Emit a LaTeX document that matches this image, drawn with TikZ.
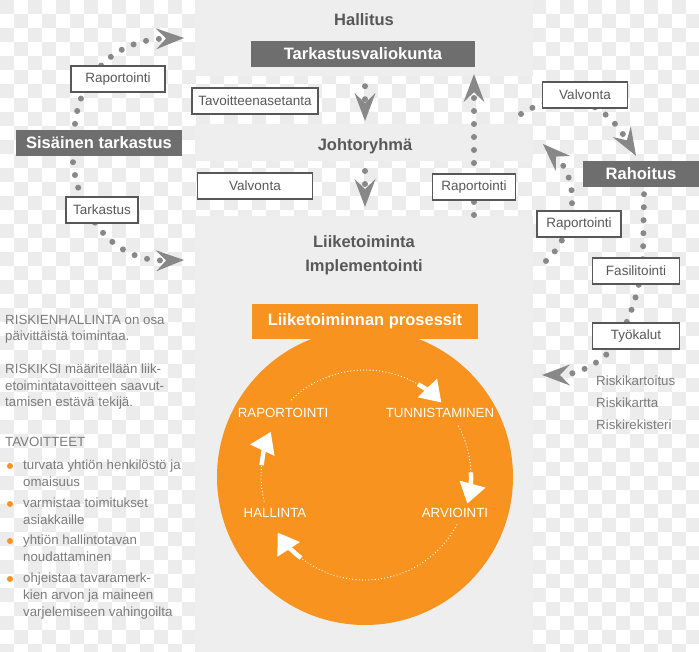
\documentclass[tikz,border=0pt]{standalone}
\usepackage{fontspec}
\setmainfont{Liberation Sans}
\usepackage{xcolor}
\definecolor{panelGray}{HTML}{EEEEEE}
\definecolor{checkGray}{HTML}{ECECEC}
\definecolor{boxGray}{HTML}{6E6E6E}
\definecolor{darkText}{HTML}{585858}
\definecolor{lightText}{HTML}{7C7C7C}
\definecolor{dotGray}{HTML}{888888}
\definecolor{processOrange}{HTML}{F7931E}
\usepackage{tikz}
\usetikzlibrary{
    arrows.meta,
    positioning,
    calc,
    backgrounds
}
\pgfdeclarelayer{connectors}
\pgfsetlayers{background,connectors,main}
\tikzset{
    % Bold grey headings of the middle column
    heading/.style={
        font=\bfseries\fontsize{16.5}{19}\selectfont,
        text=darkText,
        inner sep=0pt,
    },
    % Dark boxes with white bold text
    title box/.style={
        rectangle,
        fill=boxGray,
        text=white,
        font=\bfseries\fontsize{16.5}{19}\selectfont,
        minimum height=26pt,
        inner sep=0pt,
    },
    % White boxes sitting on the dotted lines
    label box/.style={
        rectangle,
        draw=darkText,
        line width=1.4pt,
        fill=white,
        text=darkText,
        font=\fontsize{13.5}{15}\selectfont,
        minimum height=26pt,
        inner sep=0pt,
    },
    % Plain grey text at the sides
    side text/.style={
        font=\fontsize{13.3}{16.5}\selectfont,
        text=lightText,
        align=left,
        inner sep=0pt,
        anchor=north west,
    },
    bullet item/.style={
        side text,
        font=\fontsize{13.3}{17}\selectfont,
    },
    bullet dot/.style={
        circle,
        fill=processOrange,
        inner sep=0pt,
        minimum size=6pt,
    },
    % Grey dotted connectors
    dotted path/.style={
        draw=dotGray,
        line width=6pt,
        line cap=round,
        dash pattern=on 0pt off 13pt,
    },
    dotted arrow/.style={
        dotted path,
        -{Stealth[length=28pt, width=21pt, inset=10pt, line width=0pt]},
    },
    % White cycle inside the orange disc
    cycle label/.style={
        text=white,
        font=\fontsize{13.3}{15}\selectfont,
        inner sep=0pt,
    },
    cycle dots/.style={
        draw=white,
        line width=1.3pt,
        line cap=round,
        dash pattern=on 0pt off 3.2pt,
    },
    cycle head/.style={
        draw=white,
        line width=4.5pt,
        -{Triangle[length=20pt, width=27pt, line width=0pt]},
    },
}

\begin{document}
\begin{tikzpicture}[x=1pt, y=-1pt]
    \useasboundingbox (0,0) rectangle (699,652);

    % background: checker and middle panel
    \begin{scope}[on background layer]
        \clip (0,0) rectangle (699,652);
        \fill[white] (0,0) rectangle (699,652);
        \foreach \i in {0,...,49}
            \foreach \j in {0,...,23}
                \fill[checkGray] ({\i*14},{\j*28+mod(\i,2)*14}) rectangle ++(14,14);
        \fill[panelGray] (195,0) rectangle (533,76);
        \fill[panelGray] (195,124) rectangle (533,161);
        \fill[panelGray] (195,216) rectangle (533,652);
    \end{scope}

    % middle column
    \node (hallitus) [heading] at (364,20) {Hallitus};
    \node (tarkastus_vk) [title box, minimum width=224pt] at (363,54) {Tarkastusvaliokunta};
    \node (johto) [heading] at (365,146) {Johtoryhmä};
    \node (liike) [heading] at (364,242) {Liiketoiminta};
    \node (implement) [heading] at (364,267) {Implementointi};
    \node (tavoite) [label box, minimum width=126pt] at (255,101) {Tavoitteenasetanta};
    \node (valv_left) [label box, minimum width=115pt] at (255,186) {Valvonta};
    \node (rap_mid) [label box, minimum width=83pt] at (474,187) {Raportointi};

    % left column
    \node (sisainen) [title box, minimum width=166pt] at (99,143) {Sisäinen tarkastus};
    \node (rap_left) [label box, minimum width=94pt] at (118,79) {Raportointi};
    \node (tark_left) [label box, minimum width=72pt] at (102,210) {Tarkastus};

    % right column
    \node (valv_right) [label box, minimum width=85pt] at (585,95) {Valvonta};
    \node (rahoitus) [title box, minimum width=116pt] at (641,174) {Rahoitus};
    \node (rap_right) [label box, minimum width=84pt] at (579,224) {Raportointi};
    \node (fasilit) [label box, minimum width=87pt] at (636,271) {Fasilitointi};
    \node (tyokalut) [label box, minimum width=87pt] at (636,336) {Työkalut};
    \node (riskit) [side text, font=\fontsize{13.3}{22}\selectfont] at (596,376) {Riskikartoitus\\Riskikartta\\Riskirekisteri};

    % free ends of the dotted lines
    \coordinate (hall_tip) at (184,38);
    \coordinate (busi_tip) at (184,260);
    \coordinate (rep_start) at (474,215);
    \coordinate (valv_start) at (521,114);
    \coordinate (rep_right_start) at (546,261);
    \coordinate (rep_right_tip) at (543,144);
    \coordinate (tool_tip) at (542,375);

    \begin{pgfonlayer}{connectors}
        \draw [dotted arrow] ($(sisainen.north)+(-24,-6)$) .. controls (80,80) and (110,40) .. (hall_tip);
        \draw [dotted arrow] ($(sisainen.south)+(-26,6)$) .. controls (78,210) and (110,262) .. (busi_tip);
        \draw [dotted arrow] ($(tarkastus_vk.south)+(2,19)$) -- ($(johto)+(0,-25)$);
        \draw [dotted arrow] ($(johto)+(0,25)$) -- ($(liike)+(1,-35)$);
        \draw [dotted arrow] (rep_start) -- ($(tarkastus_vk.south -| rep_start)+(0,7)$);
        \draw [dotted arrow] (valv_start) .. controls (560,90) and (600,95) .. ($(rahoitus.north)+(-5,-5)$);
        \draw [dotted arrow] (rep_right_start) .. controls (575,235) and (582,182) .. (rep_right_tip);
        \draw [dotted arrow] ($(rahoitus.south)+(3,7)$) -- ($(fasilit.north)+(7,0)$)
            .. controls (640,290) and (630,320) .. ($(tyokalut)+(-21,9)$)
            .. controls (600,365) and (575,375) .. (tool_tip);
    \end{pgfonlayer}

    % left text
    \node (riski_intro) [side text] at (5,315) {RISKIENHALLINTA on osa\\päivittäistä toimintaa.};
    \node (riski_def) [side text] at (5,364) {RISKIKSI määritellään liik-\\etoimintatavoitteen saavut-\\tamisen estävä tekijä.};
    \node (tavoitteet) [side text] at (5,437) {TAVOITTEET};
    \node (goal_a) [bullet item] at (23,460) {turvata yhtiön henkilöstö ja\\omaisuus};
    \node (goal_b) [bullet item] at (23,498) {varmistaa toimitukset\\asiakkaille};
    \node (goal_c) [bullet item] at (23,535) {yhtiön hallintotavan\\noudattaminen};
    \node (goal_d) [bullet item] at (23,573) {ohjeistaa tavaramerk-\\kien arvon ja maineen\\varjelemiseen vahingoilta};
    \node (dot_a) [bullet dot] at ($(goal_a.north west)+(-13,6)$) {};
    \node (dot_b) [bullet dot] at ($(goal_b.north west)+(-13,6)$) {};
    \node (dot_c) [bullet dot] at ($(goal_c.north west)+(-13,6)$) {};
    \node (dot_d) [bullet dot] at ($(goal_d.north west)+(-13,6)$) {};

    % business process cycle
    \node (proc_disc) [circle, fill=processOrange, minimum size=296pt, inner sep=0pt] at (365,477) {};
    \node (prosessit) [rectangle, fill=processOrange, minimum width=226pt, minimum height=35pt, text=white,
        font=\bfseries\fontsize{16.5}{19}\selectfont] at (365,321.5) {Liiketoiminnan prosessit};
    \node (c_rap) [cycle label] at (283,413) {RAPORTOINTI};
    \node (c_tun) [cycle label] at (440,413) {TUNNISTAMINEN};
    \node (c_hal) [cycle label] at (275,513) {HALLINTA};
    \node (c_arv) [cycle label] at (455,513) {ARVIOINTI};
    \coordinate (cycle_center) at (365,476);

    \draw [cycle dots] ($(cycle_center)+(-134:106)$) arc[start angle=-134, end angle=-57, radius=106];
    \draw [cycle head] ($(cycle_center)+(-60:106)$) arc[start angle=-60, end angle=-44, radius=106];
    \draw [cycle dots] ($(cycle_center)+(-28:106)$) arc[start angle=-28, end angle=1, radius=106];
    \draw [cycle head] ($(cycle_center)+(-2:106)$) arc[start angle=-2, end angle=15, radius=106];
    \draw [cycle dots] ($(cycle_center)+(28:104)$) arc[start angle=28, end angle=131, radius=104];
    \draw [cycle head] ($(cycle_center)+(128:104)$) arc[start angle=128, end angle=147, radius=104];
    \draw [cycle dots] ($(cycle_center)+(166:104)$) arc[start angle=166, end angle=189, radius=104];
    \draw [cycle head] ($(cycle_center)+(186:104)$) arc[start angle=186, end angle=205, radius=104];
\end{tikzpicture}
\end{document}
